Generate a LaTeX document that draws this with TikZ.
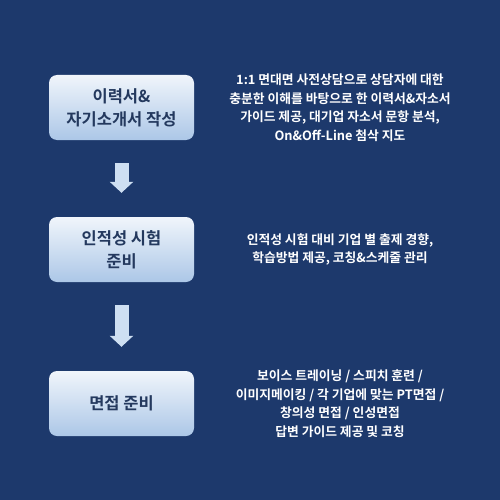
\documentclass[tikz,border=0pt]{standalone}
\usepackage{fontspec}
\setmainfont{Noto Sans CJK KR}[BoldFont=* Bold]
\usetikzlibrary{arrows.meta,positioning,calc}
\definecolor{navy}{RGB}{29,57,108}
\definecolor{boxtop}{RGB}{240,245,251}
\definecolor{boxbot}{RGB}{172,199,231}
\definecolor{boxink}{RGB}{36,57,94}
\definecolor{arrfill}{RGB}{206,223,242}
\tikzset{
  stage/.style={rounded corners=8pt,top color=boxtop,bottom color=boxbot,
    minimum width=145pt,minimum height=65pt,inner sep=0pt,align=center,
    text=boxink,font=\fontsize{16.5}{23}\selectfont\bfseries},
  desc/.style={align=center,text=white,inner sep=0pt,
    font=\fontsize{12.8}{18.5}\selectfont\bfseries},
  fat/.style={line width=14pt,draw=arrfill,shorten <=23pt,shorten >=24pt,
    -{Triangle[width=23pt,length=11pt]}},
}

\begin{document}
\begin{tikzpicture}[x=1pt,y=1pt]
  \fill[navy] (0,0) rectangle (500,-500);
  \useasboundingbox (0,0) rectangle (500,-500);
  \coordinate (col) at (340,0);

  \node[stage] (resume) at (121.5,-107.5) {이력서\&\\자기소개서 작성};
  \node[stage] (aptitude) at (121.5,-249.5) {인적성 시험\\준비};
  \node[stage] (interview) at (121.5,-403.5) {면접 준비};

  \node[desc] (d1) at (resume -| col)
    {1:1 면대면 사전상담으로 상담자에 대한\\
     충분한 이해를 바탕으로 한 이력서\&자소서\\
     가이드 제공, 대기업 자소서 문항 분석,\\
     On\&Off-Line 첨삭 지도};
  \node[desc] (d2) at (aptitude -| col)
    {인적성 시험 대비 기업 별 출제 경향,\\
     학습방법 제공, 코칭\&스케줄 관리};
  \node[desc] (d3) at (interview -| col)
    {보이스 트레이닝 / 스피치 훈련 /\\
     이미지메이킹 / 각 기업에 맞는 PT면접 /\\
     창의성 면접 / 인성면접\\
     답변 가이드 제공 및 코칭};

  \draw[fat] (resume) -- (aptitude);
  \draw[fat] (aptitude) -- (interview);
\end{tikzpicture}
\end{document}
